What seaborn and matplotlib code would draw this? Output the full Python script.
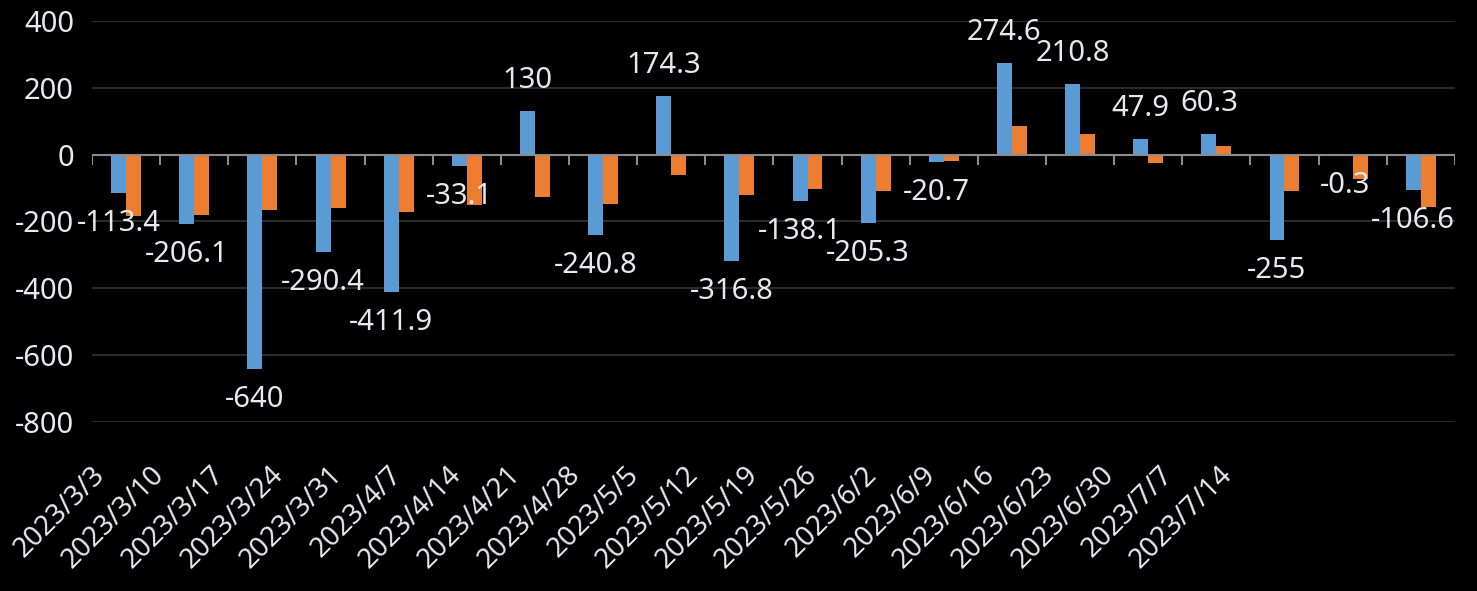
import seaborn as sns
import matplotlib.pyplot as plt
import matplotlib.transforms as mtransforms
import pandas as pd
import numpy as np

# ----------------------------
# Data
# ----------------------------
dates = ["2023/3/3", "2023/3/10", "2023/3/17", "2023/3/24", "2023/3/31",
         "2023/4/7", "2023/4/14", "2023/4/21", "2023/4/28", "2023/5/5",
         "2023/5/12", "2023/5/19", "2023/5/26", "2023/6/2", "2023/6/9",
         "2023/6/16", "2023/6/23", "2023/6/30", "2023/7/7", "2023/7/14"]
blue_values = [-113.4, -206.1, -640, -290.4, -411.9, -33.1, 130, -240.8, 174.3, -316.8,
               -138.1, -205.3, -20.7, 274.6, 210.8, 47.9, 60.3, -255, -0.3, -106.6]
orange_values = [-184, -181, -166, -161, -172, -150, -127, -149, -60, -121,
                 -104, -109, -18, 87, 63, -24, 27, -109, -72, -157]
series_names = ["A", "B"]

df = pd.DataFrame({
    "date": dates * 2,
    "value": blue_values + orange_values,
    "series": [series_names[0]] * len(dates) + [series_names[1]] * len(dates),
})

# ----------------------------
# Style
# ----------------------------
sns.set_style("dark")
plt.rcParams["font.family"] = ["Noto Sans", "DejaVu Sans"]
plt.rcParams["axes.unicode_minus"] = False
text_color = "#E6E9EE"
blue = "#5B9BD5"
orange = "#ED7D31"

fig = plt.figure(figsize=(14.77, 5.91), dpi=100, facecolor="black")
ax = fig.add_axes([0.0623, 0.286, 0.9227, 0.6785])
ax.set_facecolor("black")

sns.barplot(data=df, x="date", y="value", hue="series", order=dates,
            palette=[blue, orange], width=0.44, errorbar=None,
            saturation=1, legend=False, linewidth=0, ax=ax)

ax.set_ylim(-800, 400)
ax.set_xlim(-0.5, len(dates) - 0.5)
ax.set_yticks(np.arange(-800, 401, 200))
ax.grid(axis="y", color="#2A2A2A", linewidth=1.5)
ax.grid(axis="x", visible=False)
ax.set_axisbelow(True)
for sp in ax.spines.values():
    sp.set_visible(False)

# zero line and category separators
ax.axhline(0, color="#8C8C8C", linewidth=1.5, zorder=1)
ax.vlines(np.arange(-0.5, len(dates)), 0, -30, color="#8C8C8C", linewidth=1.5, zorder=1)

# data labels on the blue series
blue_bars = ax.containers[0]
for bar, v in zip(blue_bars, blue_values):
    cx = bar.get_x() + bar.get_width() / 2
    off = 22 if v > 0 else -22
    ax.annotate(f"{v:g}", (cx, v), xytext=(0, off), textcoords="offset points",
                ha="center", va="center", color=text_color, fontsize=21)

ax.set_xlabel("")
ax.set_ylabel("")
ax.tick_params(axis="y", colors=text_color, labelsize=21, length=0, pad=13)
ax.tick_params(axis="x", colors=text_color, labelsize=20, length=0, pad=4)

# x labels: rotated 45 degrees, packed a little tighter than the categories
for i, lab in enumerate(ax.get_xticklabels()):
    lab.set_rotation(45)
    lab.set_ha("right")
    lab.set_rotation_mode("anchor")
    dx = (-35 - 8.8 * i) / 100
    lab.set_transform(lab.get_transform() + mtransforms.ScaledTranslation(dx, -0.33, fig.dpi_scale_trans))

plt.savefig("out.png", dpi=100, facecolor="black")
plt.close()
